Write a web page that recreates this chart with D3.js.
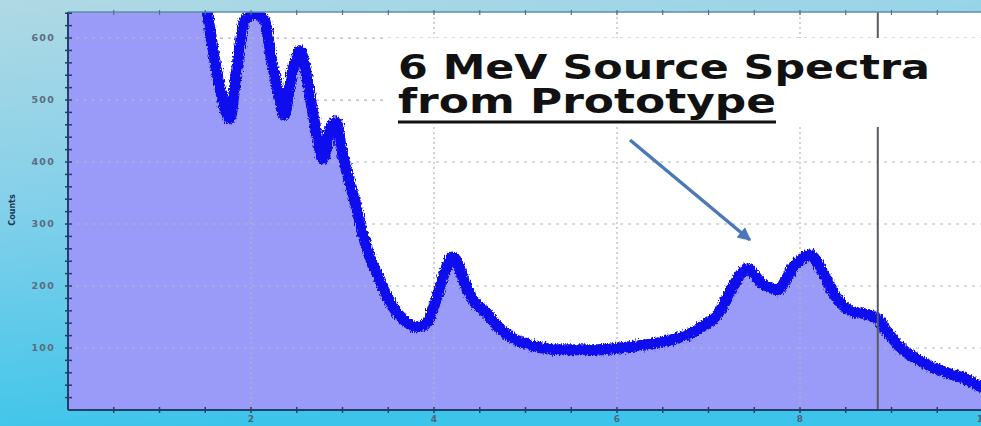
<!DOCTYPE html>
<html>
<head>
<meta charset="utf-8">
<script src="https://cdn.jsdelivr.net/npm/d3@7/dist/d3.min.js"></script>
<style>
  html, body { margin: 0; padding: 0; background: #fff; }
  svg { display: block; }
</style>
</head>
<body>
<svg id="chart" width="981" height="426"></svg>
<script>
// Energy (MeV) and counts along the measured spectrum
const energy = [0.00, 0.40, 0.80, 1.20, 1.50, 1.57, 1.64, 1.77, 1.84, 1.93, 2.04, 2.15, 2.23, 2.32, 2.36,
  2.45, 2.54, 2.60, 2.70, 2.79, 2.86, 2.93, 2.99, 3.08, 3.16, 3.22, 3.30, 3.39, 3.49, 3.60,
  3.70, 3.81, 3.92, 4.01, 4.10, 4.20, 4.25, 4.32, 4.43, 4.58, 4.69, 4.86, 5.05, 5.41, 5.78,
  6.14, 6.50, 6.87, 7.13, 7.27, 7.42, 7.58, 7.75, 7.95, 8.11, 8.24, 8.38, 8.55, 8.71, 8.84,
  8.96, 9.09, 9.26, 9.45, 9.64, 9.78, 9.97, 10.00];
const counts = [1400, 1150, 950, 780, 665, 595, 535, 470, 545, 628, 640, 628, 560, 500, 475,
  545, 580, 545, 460, 405, 450, 465, 420, 366, 323, 285, 247, 215, 182, 156,
  142, 134, 140, 172, 215, 247, 240, 210, 177, 156, 136, 116, 105, 97, 97,
  102, 110, 129, 161, 200, 228, 205, 194, 235, 250, 225, 185, 160, 155, 148,
  125, 102, 84, 69, 58, 52, 38, 36];

const yTicks = [100, 200, 300, 400, 500, 600];
const xTicks = [2, 4, 6, 8, 10];
const xTickLabels = ["2", "4", "6", "8", "10"];
const cursorEnergy = 8.85;
const titleLines = ["6 MeV Source Spectra", "from Prototype"];
const yLabel = "Counts";

const data = energy.map((e, i) => ({ e, c: counts[i] }));

const W = 981, H = 426;
const plot = { left: 68, top: 12, right: 983, bottom: 410 };

const svg = d3.select("#chart");
const defs = svg.append("defs");

// Window background: pale cyan at top fading to saturated cyan at bottom
const bg = defs.append("linearGradient").attr("id", "bg")
  .attr("x1", 0).attr("y1", 0).attr("x2", 0.25).attr("y2", 1);
bg.append("stop").attr("offset", "0%").attr("stop-color", "#b0d9e4");
bg.append("stop").attr("offset", "45%").attr("stop-color", "#84d0ea");
bg.append("stop").attr("offset", "100%").attr("stop-color", "#3cc4ea");
svg.append("rect").attr("width", W).attr("height", H).attr("fill", "url(#bg)");

defs.append("clipPath").attr("id", "plotClip")
  .append("rect")
  .attr("x", plot.left).attr("y", plot.top)
  .attr("width", plot.right - plot.left).attr("height", plot.bottom - plot.top);

// Ragged edge for the counting-noise band
const rough = defs.append("filter").attr("id", "rough")
  .attr("x", "-5%").attr("y", "-5%").attr("width", "110%").attr("height", "110%");
rough.append("feTurbulence").attr("type", "fractalNoise")
  .attr("baseFrequency", "0.9 0.35").attr("numOctaves", 2).attr("seed", 3).attr("result", "noise");
rough.append("feDisplacementMap").attr("in", "SourceGraphic").attr("in2", "noise")
  .attr("scale", 6).attr("xChannelSelector", "R").attr("yChannelSelector", "G");

const x = d3.scaleLinear().domain([0, 10]).range([plot.left, plot.right]);
const y = d3.scaleLinear().domain([0, 642]).range([plot.bottom, plot.top]);

const g = svg.append("g").attr("clip-path", "url(#plotClip)");

g.append("rect")
  .attr("x", plot.left).attr("y", plot.top)
  .attr("width", plot.right - plot.left).attr("height", plot.bottom - plot.top)
  .attr("fill", "#ffffff");

// Area under the spectrum
g.append("path").datum(data)
  .attr("fill", "#9a9af8")
  .attr("d", d3.area().x(d => x(d.e)).y0(y(0)).y1(d => y(d.c)).curve(d3.curveMonotoneX));

// Dotted grid
g.append("g").selectAll("line").data(yTicks).join("line")
  .attr("x1", plot.left).attr("x2", plot.right)
  .attr("y1", d => y(d)).attr("y2", d => y(d))
  .attr("stroke", "#b4b4c4").attr("stroke-width", 1.2).attr("stroke-dasharray", "3,5");
g.append("g").selectAll("line").data(xTicks).join("line")
  .attr("x1", d => x(d)).attr("x2", d => x(d))
  .attr("y1", plot.top).attr("y2", plot.bottom)
  .attr("stroke", "#b4b4c4").attr("stroke-width", 1.2).attr("stroke-dasharray", "2,3");

// Spectrum trace drawn as a thick noisy band
g.append("path").datum(data)
  .attr("fill", "none")
  .attr("stroke", "#1010ee")
  .attr("stroke-width", 11)
  .attr("stroke-linejoin", "round")
  .attr("filter", "url(#rough)")
  .attr("d", d3.line().x(d => x(d.e)).y(d => y(d.c)).curve(d3.curveMonotoneX));

// Cursor marker
g.append("line")
  .attr("x1", x(cursorEnergy)).attr("x2", x(cursorEnergy))
  .attr("y1", plot.top).attr("y2", plot.bottom)
  .attr("stroke", "#5a5a62").attr("stroke-width", 2);

// Axes with cross ticks
const axisColor = "#243e6a";
const minorY = d3.range(0, 641, 20);
const minorX = d3.range(0, 10.01, 0.5);
const axes = svg.append("g");
axes.append("line").attr("x1", plot.left).attr("x2", plot.left)
  .attr("y1", plot.top).attr("y2", plot.bottom).attr("stroke", axisColor).attr("stroke-width", 2);
axes.append("line").attr("x1", plot.left).attr("x2", W)
  .attr("y1", plot.bottom).attr("y2", plot.bottom).attr("stroke", axisColor).attr("stroke-width", 2);
axes.append("line").attr("x1", plot.left).attr("x2", W)
  .attr("y1", plot.top).attr("y2", plot.top).attr("stroke", "#5f8fa8").attr("stroke-width", 1.5);
axes.selectAll(".ty").data(minorY.slice(1)).join("line")
  .attr("x1", plot.left - 3).attr("x2", plot.left + 4)
  .attr("y1", d => y(d)).attr("y2", d => y(d))
  .attr("stroke", axisColor).attr("stroke-width", 1.5);
axes.selectAll(".tx").data(minorX.slice(1)).join("line")
  .attr("x1", d => x(d)).attr("x2", d => x(d))
  .attr("y1", plot.bottom - 3).attr("y2", plot.bottom + 3)
  .attr("stroke", axisColor).attr("stroke-width", 1.5);
axes.selectAll(".tt").data(minorX.slice(1)).join("line")
  .attr("x1", d => x(d)).attr("x2", d => x(d))
  .attr("y1", plot.top - 2).attr("y2", plot.top + 3)
  .attr("stroke", "#4f6f88").attr("stroke-width", 1.2);

axes.selectAll(".ly").data(yTicks).join("text")
  .attr("x", 55).attr("y", d => y(d)).attr("dy", "0.35em")
  .attr("text-anchor", "end")
  .attr("font-family", "DejaVu Sans, sans-serif").attr("font-weight", "bold")
  .attr("font-size", 9.5).attr("letter-spacing", 1.2).attr("fill", "#5a6c80")
  .text(d => d);
axes.selectAll(".lx").data(xTicks).join("text")
  .attr("x", d => x(d)).attr("y", 422)
  .attr("text-anchor", "middle")
  .attr("font-family", "DejaVu Sans, sans-serif").attr("font-weight", "bold")
  .attr("font-size", 9).attr("fill", "#4f6478")
  .text((d, i) => xTickLabels[i]);

svg.append("text")
  .attr("transform", "translate(15,210) rotate(-90)")
  .attr("text-anchor", "middle")
  .attr("font-family", "DejaVu Sans, sans-serif").attr("font-weight", "bold")
  .attr("font-size", 8).attr("fill", "#22364f")
  .text(yLabel);

// Title panel
svg.append("rect").attr("x", 386).attr("y", 38).attr("width", W - 386).attr("height", 89)
  .attr("fill", "#ffffff");
svg.append("text").attr("x", 398).attr("y", 79)
  .attr("font-family", "DejaVu Sans, sans-serif").attr("font-weight", "bold")
  .attr("font-size", 33).attr("fill", "#111")
  .attr("textLength", 532).attr("lengthAdjust", "spacingAndGlyphs")
  .text(titleLines[0]);
svg.append("text").attr("x", 398).attr("y", 113)
  .attr("font-family", "DejaVu Sans, sans-serif").attr("font-weight", "bold")
  .attr("font-size", 33).attr("fill", "#111")
  .attr("textLength", 378).attr("lengthAdjust", "spacingAndGlyphs")
  .text(titleLines[1]);
svg.append("line").attr("x1", 398).attr("x2", 776).attr("y1", 122).attr("y2", 122)
  .attr("stroke", "#111").attr("stroke-width", 3);

// Pointer arrow
defs.append("marker").attr("id", "head")
  .attr("viewBox", "0 0 10 10").attr("refX", 9).attr("refY", 5)
  .attr("markerWidth", 4.4).attr("markerHeight", 3.8).attr("orient", "auto")
  .attr("markerUnits", "strokeWidth")
  .append("path").attr("d", "M0,0 L10,5 L0,10 Z").attr("fill", "#4a78b8");
svg.append("line").attr("x1", 630).attr("y1", 140).attr("x2", 750).attr("y2", 240)
  .attr("stroke", "#4a78b8").attr("stroke-width", 3.5)
  .attr("marker-end", "url(#head)");
</script>
</body>
</html>
